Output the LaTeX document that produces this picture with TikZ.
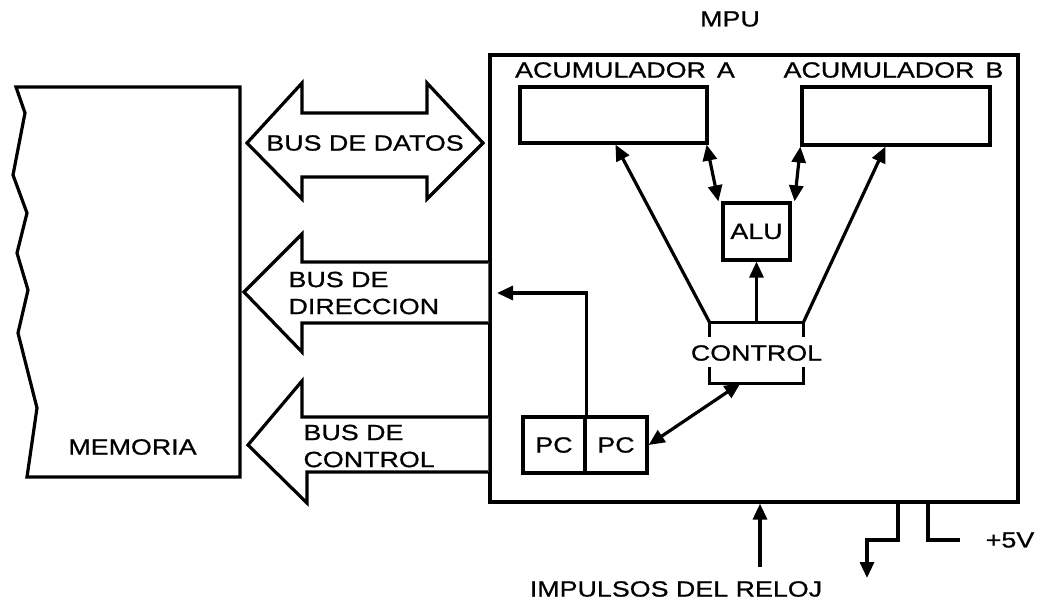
\documentclass[tikz,border=0pt]{standalone}
\usepackage{fontspec}
\setmainfont{Liberation Sans}[FakeStretch=1.22,FakeBold=0.8]
\usetikzlibrary{arrows.meta,calc}
\begin{document}
\begin{tikzpicture}[x=1pt,y=-1pt,
  every node/.style={font=\fontsize{22}{27}\selectfont},
  ln/.style={line width=3.2pt},
  box/.style={draw,line width=3.2pt,inner sep=0pt,fill=white},
  arr/.style={ln,-{Triangle[length=16pt,width=14pt]}},
  darr/.style={ln,{Triangle[length=16pt,width=14pt]}-{Triangle[length=16pt,width=14pt]}},
  bus/.style={ln,fill=white,line join=miter}]
\useasboundingbox (0,0) rectangle (1055,602);

% MEMORIA
\draw[ln,fill=white] (237,87) -- (16,87) -- (25,113) -- (13,175) -- (27,213) -- (17,253)
  -- (28,290) -- (18,333) -- (37,408) -- (27,477) -- (240,477) -- (240,87) -- cycle;
\node (mem) at (132.5,447) {MEMORIA};

% MPU
\node[box,fill=none,minimum width=528pt,minimum height=447pt] (mpu) at (754,278.5) {};
\node (mpulbl) at (730,19) {MPU};

% buses
\draw[bus] (247,143) -- (302,83) -- (302,113) -- (427,113) -- (427,83) -- (483,143)
  -- (427,199) -- (427,177) -- (302,177) -- (302,199) -- cycle;
\node (bd) at (365,143) {BUS DE DATOS};

\draw[bus] (mpu.west |- 0,262) -- (302,262) -- (302,234) -- (244,292) -- (302,352)
  -- (302,323) -- (mpu.west |- 0,323);
\node[align=left,anchor=west] (bdir) at (285,293) {BUS DE\\DIRECCION};

\draw[bus] (mpu.west |- 0,417) -- (302,417) -- (302,381) -- (248,445) -- (307,503)
  -- (307,472) -- (mpu.west |- 0,472);
\node[align=left,anchor=west] (bctl) at (300,446) {BUS DE\\CONTROL};

% accumulators
\node (lblA) at (625,70) {ACUMULADOR\hspace{0.5em}A};
\node (lblB) at (893.5,70) {ACUMULADOR\hspace{0.5em}B};
\node[box,minimum width=187pt,minimum height=56pt] (accA) at (613.5,115) {};
\node[box,minimum width=188pt,minimum height=58pt] (accB) at (896,116) {};

% ALU
\node[box,minimum width=67pt,minimum height=57pt] (alu) at (756.5,231.5) {ALU};

% CONTROL (bracket)
\node[inner sep=0pt,minimum width=93pt,minimum height=60pt] (control) at (756.5,353) {};
\node (ctltext) at (control.center) {CONTROL};
\draw[ln] ([yshift=-14]control.north west) -- (control.north west) -- (control.north east) -- ([yshift=-14]control.north east);
\draw[ln] ([yshift=16]control.south west) -- (control.south west) -- (control.south east) -- ([yshift=16]control.south east);

% PC
\node[box,minimum width=62pt,minimum height=56pt] (pcA) at (554,445) {PC};
\node[box,minimum width=62pt,minimum height=56pt] (pcB) at (616,445) {PC};

% connectors
\draw[arr] (control.north west) -- ([xshift=97]accA.south west);
\draw[arr] (control.north east) -- ([xshift=85]accB.south west);
\draw[darr] ([xshift=-2]accA.south east) -- ([xshift=-3]alu.north west);
\draw[darr] (accB.south west) -- ([xshift=3]alu.north east);
\draw[arr] (control.north) -- (alu.south);
\draw[darr] ([xshift=-16]control.south) -- (pcB.east);
\coordinate (pcout) at (497,293);
\draw[arr] (pcA.north east) |- (pcout);

% bottom
\coordinate (clk) at (760,567);
\draw[arr] (clk) -- (clk |- mpu.south);
\node (clklbl) at (676,589) {IMPULSOS DEL RELOJ};
\coordinate (gnd) at (867,578);
\draw[arr] (mpu.south -| 898,0) -- (898,540) -| (gnd);
\coordinate (vcc) at (960,540);
\draw[ln] (mpu.south -| 928,0) |- (vcc);
\node (v5) at (1010,540) {+5V};
\end{tikzpicture}
\end{document}
